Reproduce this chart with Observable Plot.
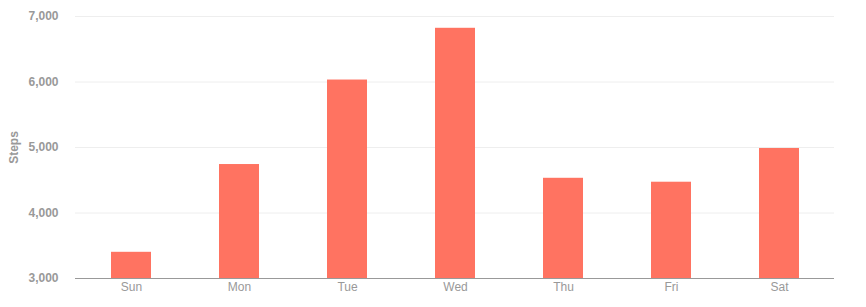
<!DOCTYPE html>
<html>
<head>
<meta charset="utf-8">
<script src="https://cdn.jsdelivr.net/npm/d3@7"></script>
<script src="https://cdn.jsdelivr.net/npm/@observablehq/plot@0.6"></script>
<style>
  html, body { margin: 0; padding: 0; background: #fff; }
  #chart svg { display: block; }
</style>
</head>
<body>
<div id="chart"></div>
<script>
const days = ["Sun", "Mon", "Tue", "Wed", "Thu", "Fri", "Sat"];
const steps = [3400, 4740, 6030, 6820, 4530, 4470, 4985];
const yTicks = [3000, 4000, 5000, 6000, 7000];
const yLabel = "Steps";

const data = days.map((d, i) => ({day: d, steps: steps[i]}));

const chart = Plot.plot({
  width: 866,
  height: 307,
  marginLeft: 75,
  marginRight: 32,
  marginTop: 16,
  marginBottom: 29,
  style: {fontFamily: "'Liberation Sans', Arial, sans-serif", fontSize: "12px", color: "#999", background: "#fff"},
  x: {domain: days, paddingInner: 0.63, paddingOuter: 0.315, label: null},
  y: {domain: [3000, 7000], label: yLabel},
  marks: [
    Plot.ruleY(yTicks.slice(1), {stroke: "#eeeeee", strokeWidth: 1}),
    Plot.barY(data, {x: "day", y1: 3000, y2: "steps", fill: "#ff7361"}),
    Plot.ruleY([3000], {stroke: "#999", strokeWidth: 1}),
    Plot.axisX({tickSize: 0, tickPadding: 4, fill: "#999", fontSize: 12}),
    Plot.axisY({ticks: yTicks, tickSize: 0, tickPadding: 17, tickFormat: d3.format(","), fill: "#999", fontWeight: "bold", fontSize: 12, label: yLabel, labelAnchor: "center", labelArrow: "none", labelOffset: 66})
  ]
});
document.getElementById("chart").appendChild(chart);
</script>
</body>
</html>
